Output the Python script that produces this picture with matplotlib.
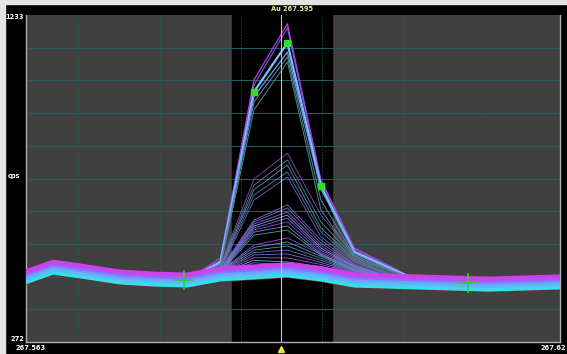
import matplotlib
matplotlib.use("Agg")
import matplotlib.pyplot as plt
from matplotlib.patches import Rectangle

# wavelength (nm) of each sample
wl = [267.5622, 267.5664, 267.5706, 267.5748, 267.5790, 267.5832, 267.5874, 267.5916, 267.5958,
      267.6000, 267.6042, 267.6084, 267.6126, 267.6168, 267.6210, 267.6252, 267.6294, 267.6336]

# background band (many replicates, top = magenta, bottom = cyan)
band = [
    [475, 510, 496, 481, 475, 472, 490, 496, 502, 490, 472, 469, 466, 463, 460, 463, 466, 466],
    [469, 504, 490, 475, 469, 466, 484, 490, 496, 484, 466, 463, 460, 457, 454, 457, 460, 460],
    [463, 498, 484, 469, 463, 460, 478, 484, 490, 478, 460, 457, 454, 451, 448, 451, 454, 454],
    [457, 492, 478, 463, 457, 454, 472, 478, 484, 472, 454, 451, 448, 445, 442, 445, 448, 448],
    [451, 486, 472, 457, 451, 448, 466, 472, 478, 466, 448, 445, 442, 439, 436, 439, 442, 442],
    [445, 480, 466, 451, 445, 442, 460, 466, 472, 460, 442, 439, 436, 433, 430, 433, 436, 436],
    [439, 474, 460, 445, 439, 436, 454, 460, 466, 454, 436, 433, 430, 427, 424, 427, 430, 430],
]
band_colors = ["#d83cf0", "#b450f0", "#8c70ff", "#70a0ff", "#60b8f8", "#48d0f0", "#30e4ec"]
red_low = [435, 470, 456, 441, 435, 432, 450, 456, 462, 450, 432, 429, 426, 423, 420, 423, 426, 426]

# shared flanks of the peak traces
flank = [457, 492, 478, 463, 457, 454, 472, 478, 484, 472, 454, 451, 448, 445, 442, 445, 448, 448]

# peak window (samples 6..11) for each trace
big = [
    [519, 1042, 1207, 748, 548, 498],
    [512, 1027, 1195, 740, 545, 495],
    [507, 1007, 1151, 730, 537, 492],
    [503, 993, 1124, 722, 533, 489],
    [499, 977, 1110, 689, 525, 486],
    [495, 954, 1095, 660, 520, 483],
]
big_colors = ["#b040f0", "#9050e0", "#80c0ff", "#60a0e0", "#6080b0", "#508888"]
big_lw = [0.9, 0.8, 1.6, 0.9, 0.7, 0.7]

mid = [
    [498, 751, 827, 645, 528, 480],
    [494, 733, 807, 625, 520, 476],
    [490, 719, 792, 607, 515, 472],
    [487, 704, 772, 596, 510, 470],
    [484, 689, 757, 581, 507, 468],
]
mid_colors = ["#9040d0", "#508890", "#6090c0", "#5080b0", "#7060c0"]

grp2 = [
    [486, 630, 675, 572, 500, 466],
    [484, 625, 666, 563, 497, 465],
    [482, 619, 654, 555, 494, 464],
    [480, 613, 645, 548, 492, 463],
    [479, 607, 636, 542, 490, 462],
    [478, 601, 625, 536, 488, 461],
    [477, 595, 613, 531, 486, 460],
    [476, 586, 601, 527, 484, 459],
]
grp3 = [
    [480, 557, 578, 530, 484, 462],
    [479, 550, 566, 524, 482, 461],
    [478, 542, 554, 518, 480, 460],
    [477, 535, 542, 512, 478, 459],
    [476, 528, 531, 506, 476, 458],
    [475, 520, 519, 500, 474, 457],
    [474, 512, 507, 494, 472, 456],
    [473, 505, 498, 490, 470, 455],
]
low_colors = ["#a040e0", "#6090d0", "#4a9aa0", "#8060e0", "#5a80c0", "#c040f0", "#60b0e0", "#7070d0"]

# selected points and background markers
sel_idx = [7, 8, 9]
bg_x = [267.5828, 267.6185]
bg_y = [454, 445]

xgrid = [267.5695, 267.5798, 267.5900, 267.6001, 267.6103, 267.6206]
ygrid = [368.1, 464.2, 560.3, 656.4, 752.5, 848.6, 944.7, 1040.8, 1136.9]
xmin, xmax = 267.563, 267.630
ymin, ymax = 272, 1233
line_wl = 267.595

W, H = 567, 354
fig = plt.figure(figsize=(W / 100, H / 100), dpi=100, facecolor="black")
fig.patches.append(Rectangle((0, 0), 5 / W, 1, transform=fig.transFigure, color="#e4e4e4", zorder=0))
fig.patches.append(Rectangle((0, 1 - 4 / H), 1, 4 / H, transform=fig.transFigure, color="#e4e4e4", zorder=0))

ax = fig.add_axes([26 / W, 12 / H, 534 / W, 327 / H])
ax.set_facecolor("#404040")
ax.set_xlim(xmin, xmax)
ax.set_ylim(ymin, ymax)
ax.axvspan(267.58885, 267.60139, color="black", zorder=0.5)
for g in ygrid:
    ax.axhline(g, color="#226262", lw=0.7, zorder=1)
for g in xgrid:
    ax.axvline(g, color="#226262", lw=0.7, ls=(0, (1, 2)), zorder=1)


def full(win):
    return flank[:6] + win + flank[12:]


for i, w in enumerate(grp3):
    ax.plot(wl, full(w), color=low_colors[i % len(low_colors)], lw=0.6, zorder=2)
for i, w in enumerate(grp2):
    ax.plot(wl, full(w), color=low_colors[(i + 3) % len(low_colors)], lw=0.6, zorder=2)
for i, w in enumerate(mid):
    ax.plot(wl, full(w), color=mid_colors[i], lw=0.6, zorder=2)
for i, w in enumerate(big):
    ax.plot(wl, full(w), color=big_colors[i], lw=big_lw[i], zorder=3)

ax.plot(wl, red_low, color="#802020", lw=1.0, zorder=3)
for row, c in zip(band[::-1], band_colors[::-1]):
    ax.plot(wl, row, color=c, lw=2.0, zorder=4)

sel = full(big[2])
ax.plot([wl[i] for i in sel_idx], [sel[i] for i in sel_idx], ls="none", marker="s",
        ms=4.2, color="#30e030", zorder=6)
ax.plot(bg_x, bg_y, ls="none", marker="+", ms=14, mew=1.2, color="#30d030", zorder=6)

ax.axvline(line_wl, color="#c8c890", lw=0.8, zorder=5)
ax.plot([line_wl], [-0.02], transform=ax.get_xaxis_transform(), marker="^", ms=5,
        color="#f0e040", clip_on=False, zorder=7)

ax.set_xticks([])
ax.set_yticks([])
ax.spines["top"].set_visible(False)
for s in ["left", "bottom", "right"]:
    ax.spines[s].set_color("#b0b0b0")
    ax.spines[s].set_linewidth(1.0)

fs = 4.8
fig.text(24 / W, 1 - 17 / H, "1233", color="white", fontsize=fs, weight="bold", ha="right", va="center")
fig.text(14 / W, 1 - 176 / H, "cps", color="white", fontsize=fs, weight="bold", ha="center", va="center")
fig.text(24 / W, 1 - 339 / H, "272", color="white", fontsize=fs, weight="bold", ha="right", va="center")
fig.text(15 / W, 1 - 348 / H, "267.563", color="white", fontsize=fs, weight="bold", ha="left", va="center")
fig.text(566 / W, 1 - 348 / H, "267.62", color="white", fontsize=fs, weight="bold", ha="right", va="center")
fig.text(292 / W, 1 - 9 / H, "Au 267.595", color="#e8e8a0", fontsize=fs, weight="bold", ha="center", va="center")

fig.savefig("out.png", dpi=100, facecolor=fig.get_facecolor())
